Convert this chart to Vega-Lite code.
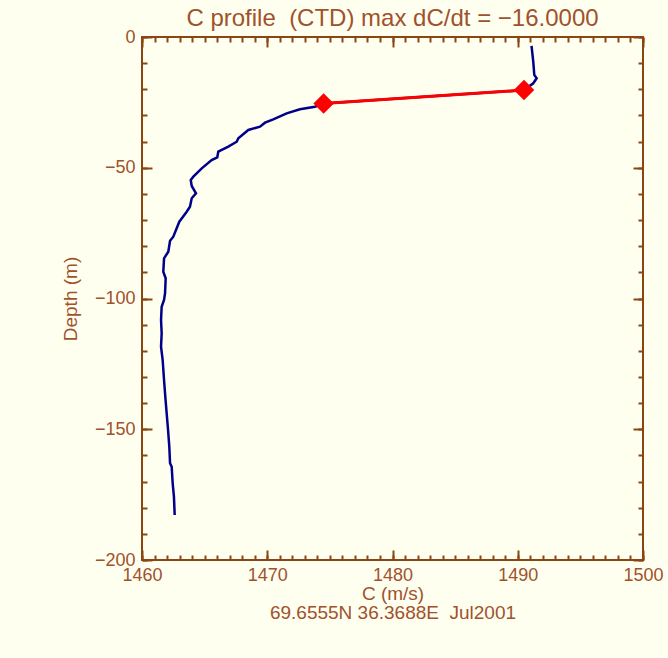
{
  "$schema": "https://vega.github.io/schema/vega-lite/v6.json",
  "width": 501,
  "height": 523,
  "autosize": {"type": "none"},
  "padding": {"left": 142, "top": 37, "right": 25, "bottom": 98},
  "background": "#FFFFF0",
  "title": {
    "text": "C profile\u00a0 (CTD) max dC/dt = \u221216.0000",
    "font": "Liberation Sans",
    "fontSize": 24,
    "fontWeight": "normal",
    "color": "#A0522D",
    "anchor": "middle",
    "offset": -3
  },
  "datasets": {
    "profile": [
      {"C": 1491.1, "depth": -3.4},
      {"C": 1491.24, "depth": -9.5},
      {"C": 1491.32, "depth": -14.5},
      {"C": 1491.51, "depth": -15.8},
      {"C": 1491.24, "depth": -17.7},
      {"C": 1490.5, "depth": -20.3},
      {"C": 1474.5, "depth": -25.4},
      {"C": 1473.81, "depth": -26.65},
      {"C": 1472.61, "depth": -27.65},
      {"C": 1471.55, "depth": -29.18},
      {"C": 1470.48, "depth": -31.47},
      {"C": 1469.82, "depth": -32.77},
      {"C": 1469.42, "depth": -34.3},
      {"C": 1468.49, "depth": -35.56},
      {"C": 1467.69, "depth": -38.74},
      {"C": 1467.56, "depth": -40.04},
      {"C": 1466.89, "depth": -41.95},
      {"C": 1466.09, "depth": -43.86},
      {"C": 1466.01, "depth": -46.0},
      {"C": 1465.56, "depth": -47.04},
      {"C": 1464.77, "depth": -50.21},
      {"C": 1464.1, "depth": -53.42},
      {"C": 1463.89, "depth": -54.68},
      {"C": 1463.97, "depth": -56.98},
      {"C": 1464.31, "depth": -59.77},
      {"C": 1463.97, "depth": -61.68},
      {"C": 1463.83, "depth": -64.89},
      {"C": 1463.57, "depth": -66.81},
      {"C": 1462.98, "depth": -70.63},
      {"C": 1462.77, "depth": -73.16},
      {"C": 1462.5, "depth": -76.37},
      {"C": 1462.24, "depth": -77.9},
      {"C": 1462.1, "depth": -82.1},
      {"C": 1461.76, "depth": -84.63},
      {"C": 1461.7, "depth": -89.75},
      {"C": 1461.89, "depth": -92.28},
      {"C": 1461.84, "depth": -98.01},
      {"C": 1461.76, "depth": -100.57},
      {"C": 1461.57, "depth": -103.14},
      {"C": 1461.52, "depth": -108.22},
      {"C": 1461.57, "depth": -113.31},
      {"C": 1461.52, "depth": -118.43},
      {"C": 1461.65, "depth": -123.52},
      {"C": 1461.76, "depth": -131.17},
      {"C": 1461.86, "depth": -137.55},
      {"C": 1461.97, "depth": -143.9},
      {"C": 1462.08, "depth": -150.29},
      {"C": 1462.18, "depth": -156.67},
      {"C": 1462.24, "depth": -163.02},
      {"C": 1462.37, "depth": -164.32},
      {"C": 1462.45, "depth": -170.67},
      {"C": 1462.55, "depth": -175.79},
      {"C": 1462.61, "depth": -182.79}
    ],
    "gradient": [
      {"C": 1490.5, "depth": -20.3},
      {"C": 1474.5, "depth": -25.4}
    ]
  },
  "config": {
    "view": {"stroke": "#8B4513", "strokeWidth": 2},
    "axis": {
      "domain": false,
      "grid": false,
      "tickColor": "#8B4513",
      "tickWidth": 2,
      "labelFont": "Liberation Sans",
      "labelFontSize": 18,
      "labelColor": "#A0522D",
      "labelFlush": false,
      "labelOverlap": false,
      "titleFont": "Liberation Sans",
      "titleFontSize": 19,
      "titleFontWeight": "normal",
      "titleColor": "#A0522D"
    }
  },
  "resolve": {"axis": {"x": "independent", "y": "independent"}},
  "layer": [
    {
      "data": {"name": "profile"},
      "mark": {"type": "line", "color": "#00008B", "strokeWidth": 2.5},
      "encoding": {
        "x": {
          "field": "C",
          "type": "quantitative",
          "scale": {"domain": [1460, 1500], "nice": false, "zero": false},
          "axis": {
            "orient": "bottom",
            "values": [1460, 1470, 1480, 1490, 1500],
            "format": "d",
            "tickSize": -10,
            "labelPadding": 16,
            "title": ["C (m/s)", "69.6555N 36.3688E\u00a0 Jul2001"],
            "titlePadding": 0,
            "titleLineHeight": 19
          }
        },
        "y": {
          "field": "depth",
          "type": "quantitative",
          "scale": {"domain": [-200, 0], "nice": false, "zero": false},
          "axis": {
            "orient": "left",
            "values": [-200, -150, -100, -50, 0],
            "tickSize": -10,
            "labelPadding": 17,
            "title": "Depth (m)",
            "titlePadding": 14
          }
        },
        "order": {"value": null}
      }
    },
    {
      "data": {"name": "gradient"},
      "mark": {"type": "line", "color": "#FF0000", "strokeWidth": 3},
      "encoding": {
        "x": {
          "field": "C",
          "type": "quantitative",
          "scale": {"domain": [1460, 1500], "nice": false, "zero": false},
          "axis": {
            "orient": "top",
            "values": [1460, 1470, 1480, 1490, 1500],
            "tickSize": -10,
            "labels": false,
            "title": null
          }
        },
        "y": {
          "field": "depth",
          "type": "quantitative",
          "scale": {"domain": [-200, 0], "nice": false, "zero": false},
          "axis": {
            "orient": "right",
            "values": [-200, -150, -100, -50, 0],
            "tickSize": -10,
            "labels": false,
            "title": null
          }
        },
        "order": {"value": null}
      }
    },
    {
      "data": {"name": "gradient"},
      "mark": {"type": "point", "shape": "diamond", "filled": true, "color": "#FF0000", "opacity": 1, "size": 420},
      "encoding": {
        "x": {
          "field": "C",
          "type": "quantitative",
          "scale": {"domain": [1460, 1500], "nice": false, "zero": false},
          "axis": {
            "orient": "bottom",
            "values": [1460, 1461, 1462, 1463, 1464, 1465, 1466, 1467, 1468, 1469, 1470, 1471, 1472, 1473, 1474, 1475, 1476, 1477, 1478, 1479, 1480, 1481, 1482, 1483, 1484, 1485, 1486, 1487, 1488, 1489, 1490, 1491, 1492, 1493, 1494, 1495, 1496, 1497, 1498, 1499, 1500],
            "tickSize": -5,
            "labels": false,
            "title": null
          }
        },
        "y": {
          "field": "depth",
          "type": "quantitative",
          "scale": {"domain": [-200, 0], "nice": false, "zero": false},
          "axis": {
            "orient": "left",
            "values": [-200, -190, -180, -170, -160, -150, -140, -130, -120, -110, -100, -90, -80, -70, -60, -50, -40, -30, -20, -10, 0],
            "tickSize": -5,
            "labels": false,
            "title": null
          }
        }
      }
    },
    {
      "data": {"name": "gradient"},
      "mark": {"type": "point", "opacity": 0},
      "encoding": {
        "x": {
          "field": "C",
          "type": "quantitative",
          "scale": {"domain": [1460, 1500], "nice": false, "zero": false},
          "axis": {
            "orient": "top",
            "values": [1460, 1461, 1462, 1463, 1464, 1465, 1466, 1467, 1468, 1469, 1470, 1471, 1472, 1473, 1474, 1475, 1476, 1477, 1478, 1479, 1480, 1481, 1482, 1483, 1484, 1485, 1486, 1487, 1488, 1489, 1490, 1491, 1492, 1493, 1494, 1495, 1496, 1497, 1498, 1499, 1500],
            "tickSize": -5,
            "labels": false,
            "title": null
          }
        },
        "y": {
          "field": "depth",
          "type": "quantitative",
          "scale": {"domain": [-200, 0], "nice": false, "zero": false},
          "axis": {
            "orient": "right",
            "values": [-200, -190, -180, -170, -160, -150, -140, -130, -120, -110, -100, -90, -80, -70, -60, -50, -40, -30, -20, -10, 0],
            "tickSize": -5,
            "labels": false,
            "title": null
          }
        }
      }
    }
  ]
}
